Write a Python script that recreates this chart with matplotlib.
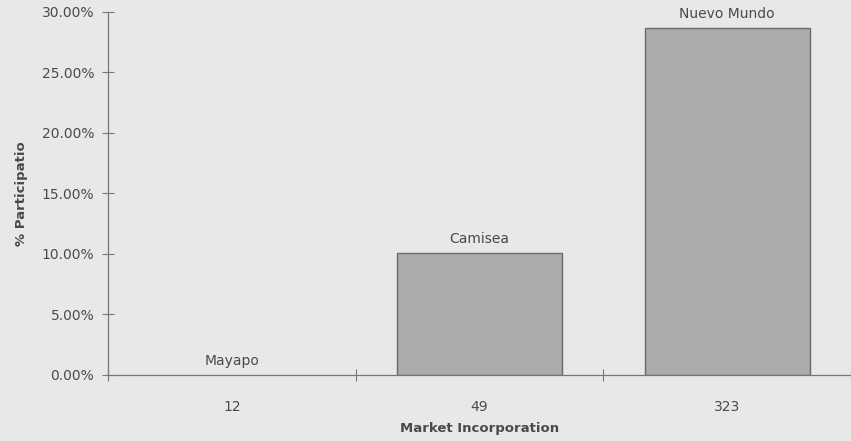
import matplotlib.pyplot as plt
import numpy as np

# --- dane ---
categories = ["12", "49", "323"]
names = ["Mayapo", "Camisea", "Nuevo Mundo"]
share = [0.0, 10.1, 28.7]  # % participación

# --- wykres ---
plt.rcParams["font.family"] = ["DejaVu Sans"]
fig = plt.figure(figsize=(8.51, 4.41), dpi=100, facecolor="#e8e8e6")
ax = fig.add_axes([0.127, 0.150, 0.873, 0.823])
ax.set_facecolor("#e8e8e6")

x = np.arange(len(categories))
bars = ax.bar(x, share, width=0.665, color="#ababab",
              edgecolor="#6a6a6a", linewidth=1.0)
# słupek o zerowej wysokości bez obrysu
for b, v in zip(bars, share):
    if v == 0:
        b.set_linewidth(0)
ax.bar_label(bars, labels=names, padding=5, fontsize=10, color="#4a4a4a")

ax.set_xlim(-0.5, len(categories) - 0.5)
ax.set_ylim(0, 30)
ax.set_yticks(np.arange(0, 31, 5))
ax.set_yticklabels([f"{v:.2f}%" for v in np.arange(0, 31, 5)])
ax.set_xticks(x)
ax.set_xticklabels(categories)
ax.set_xticks(np.arange(-0.5, len(categories), 1.0), minor=True)

ax.tick_params(axis="y", direction="inout", length=8, width=0.8,
               colors="#777777", labelcolor="#4a4a4a", labelsize=10, pad=6)
ax.tick_params(axis="x", which="major", length=0, labelcolor="#4a4a4a",
               labelsize=10, pad=18)
ax.tick_params(axis="x", which="minor", direction="inout", length=8,
               width=0.8, colors="#777777")

for side in ["top", "right"]:
    ax.spines[side].set_visible(False)
for side in ["left", "bottom"]:
    ax.spines[side].set_color("#777777")
    ax.spines[side].set_linewidth(0.9)

ax.set_xlabel("Market Incorporation", fontsize=9.5, fontweight="bold",
              color="#4a4a4a", labelpad=6)
ax.set_ylabel("% Participatio", fontsize=9.5, fontweight="bold",
              color="#4a4a4a", labelpad=10)

fig.savefig("out.png", dpi=100, facecolor=fig.get_facecolor())
